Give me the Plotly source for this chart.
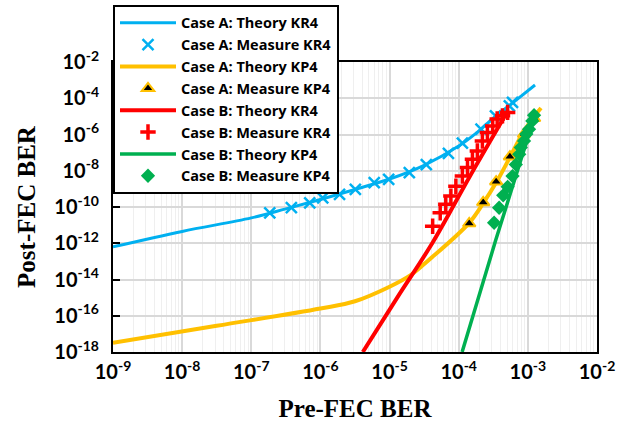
import plotly.graph_objects as go

# ---------------- data ----------------
# Case A KR4 theory
a_kr4_th_x = [1e-9, 1e-8, 1e-7, 3.16e-7, 1e-6, 3.16e-6, 1e-5, 3.16e-5, 1e-4, 1.78e-4, 3.16e-4, 6.3e-4, 1.27e-3]
a_kr4_th_y = [6.3e-13, 4.5e-12, 2.5e-11, 7.9e-11, 2.6e-10, 9.3e-10, 3.5e-9, 2.0e-8, 2.3e-7, 1.17e-6, 7.9e-6, 6.3e-5, 5.4e-4]
# Case A KR4 measured
a_kr4_ms_x = [1.85e-7, 3.8e-7, 7.0e-7, 1.08e-6, 1.89e-6, 3.2e-6, 6.0e-6, 9.7e-6, 1.93e-5, 3.4e-5, 7.1e-5, 1.13e-4, 2.1e-4, 3.4e-4, 5.4e-4, 6.0e-4]
a_kr4_ms_y = [4.8e-11, 9.1e-11, 1.7e-10, 3.2e-10, 4.9e-10, 9.3e-10, 2.2e-9, 3.3e-9, 7.8e-9, 2.2e-8, 9.1e-8, 3.3e-7, 1.95e-6, 1.07e-5, 3.8e-5, 5.9e-5]
# Case A KP4 theory
a_kp4_th_x = [1e-9, 3.16e-8, 1e-6, 3.16e-6, 1e-5, 2.04e-5, 3.7e-5, 1.4e-4, 2.3e-4, 3.5e-4, 5.6e-4, 8.3e-4, 1.15e-3, 1.55e-3]
a_kp4_th_y = [3.2e-18, 2.8e-17, 2.5e-16, 6.3e-16, 4.0e-15, 1.8e-14, 1.2e-13, 1.26e-11, 1.8e-10, 2.3e-9, 6.3e-8, 1.05e-6, 7.1e-6, 2.9e-5]
# Case A KP4 measured
a_kp4_ms_x = [1.42e-4, 2.26e-4, 3.48e-4, 5.5e-4, 8.8e-4, 1.23e-3]
a_kp4_ms_y = [1.23e-11, 1.78e-10, 2.5e-9, 6.0e-8, 1.05e-6, 7.8e-6]
# Case B KR4 theory
b_kr4_th_x = [4.1e-6, 1.29e-5, 4.2e-5, 1.5e-4, 5.2e-4]
b_kr4_th_y = [1e-18, 1e-15, 1.1e-12, 6.3e-9, 2.2e-5]
# Case B KR4 measured
b_kr4_ms_x = [4.2e-5, 5.4e-5, 6.5e-5, 7.7e-5, 9.1e-5, 1.13e-4, 1.34e-4, 1.58e-4, 1.86e-4, 2.2e-4, 2.6e-4, 3.1e-4, 3.6e-4, 4.3e-4, 5.1e-4]
b_kr4_ms_y = [8.7e-12, 4.8e-11, 1.4e-10, 4.0e-10, 1.4e-9, 5.1e-9, 1.5e-8, 4.3e-8, 1.23e-7, 4.4e-7, 1.3e-6, 2.95e-6, 7.1e-6, 1.07e-5, 1.66e-5]
# Case B KP4 theory
b_kp4_th_x = [1.12e-4, 3.45e-4, 1.32e-3]
b_kp4_th_y = [1e-18, 1.6e-12, 2.0e-5]
# Case B KP4 measured
b_kp4_ms_x = [3.25e-4, 3.84e-4, 4.4e-4, 5.1e-4, 6.0e-4, 6.7e-4, 7.5e-4, 7.9e-4, 8.8e-4, 9.5e-4, 1.04e-3, 1.16e-3, 1.23e-3]
b_kp4_ms_y = [1.35e-11, 9.1e-11, 4.4e-10, 1.3e-9, 5.1e-9, 2.2e-8, 8.1e-8, 1.9e-7, 4.4e-7, 1.05e-6, 1.95e-6, 5.6e-6, 1.17e-5]

# axis ticks
x_tickvals = [1e-9, 1e-8, 1e-7, 1e-6, 1e-5, 1e-4, 1e-3, 1e-2]
x_ticktext = ["10<sup>-9</sup>", "10<sup>-8</sup>", "10<sup>-7</sup>", "10<sup>-6</sup>",
              "10<sup>-5</sup>", "10<sup>-4</sup>", "10<sup>-3</sup>", "10<sup>-2</sup>"]
y_tickvals = [1e-18, 1e-16, 1e-14, 1e-12, 1e-10, 1e-8, 1e-6, 1e-4, 1e-2]
y_ticktext = ["10<sup>-18</sup>", "10<sup>-16</sup>", "10<sup>-14</sup>", "10<sup>-12</sup>",
              "10<sup>-10</sup>", "10<sup>-8</sup>", "10<sup>-6</sup>", "10<sup>-4</sup>", "10<sup>-2</sup>"]
x_minor = [m * d for d in [1e-9, 1e-8, 1e-7, 1e-6, 1e-5, 1e-4, 1e-3] for m in range(2, 10)]

BLUE = "#00B0F0"
YELLOW = "#FFC000"
RED = "#FF0000"
GREEN = "#00B050"

fig = go.Figure()
fig.add_trace(go.Scatter(x=a_kr4_th_x, y=a_kr4_th_y, mode="lines", name="Case A: Theory KR4",
                         line=dict(color=BLUE, width=3, shape="spline", smoothing=1.0)))
fig.add_trace(go.Scatter(x=a_kr4_ms_x, y=a_kr4_ms_y, mode="markers", name="Case A: Measure KR4",
                         marker=dict(symbol="x-thin", size=11, line=dict(color=BLUE, width=2.5))))
fig.add_trace(go.Scatter(x=a_kp4_th_x, y=a_kp4_th_y, mode="lines", name="Case A: Theory KP4",
                         line=dict(color=YELLOW, width=4, shape="spline", smoothing=1.0)))
fig.add_trace(go.Scatter(x=a_kp4_ms_x, y=a_kp4_ms_y, mode="markers", name="Case A: Measure KP4",
                         marker=dict(symbol="triangle-up", size=11, color="black",
                                     line=dict(color=YELLOW, width=2))))
fig.add_trace(go.Scatter(x=b_kr4_th_x, y=b_kr4_th_y, mode="lines", name="Case B: Theory KR4",
                         line=dict(color=RED, width=4, shape="spline", smoothing=1.0)))
fig.add_trace(go.Scatter(x=b_kr4_ms_x, y=b_kr4_ms_y, mode="markers", name="Case B: Measure KR4",
                         marker=dict(symbol="cross-thin", size=11, line=dict(color=RED, width=3.5))))
fig.add_trace(go.Scatter(x=b_kp4_th_x, y=b_kp4_th_y, mode="lines", name="Case B: Theory KP4",
                         line=dict(color=GREEN, width=3.5)))
fig.add_trace(go.Scatter(x=b_kp4_ms_x, y=b_kp4_ms_y, mode="markers", name="Case B: Measure KP4",
                         marker=dict(symbol="diamond", size=11, color=GREEN)))

tickfont = dict(family="Lato", size=20, color="black", weight="bold")
fig.update_layout(
    width=620, height=423,
    margin=dict(l=113, r=23, t=62, b=71, autoexpand=False),
    paper_bgcolor="white", plot_bgcolor="white",
    showlegend=True,
    legend=dict(x=0, y=1.197, xanchor="left", yanchor="top",
                bgcolor="white", bordercolor="black", borderwidth=2,
                font=dict(family="Open Sans", size=14.5, color="black", weight="bold"),
                itemwidth=56, tracegroupgap=0),
    xaxis=dict(type="log", range=[-9, -2], tickmode="array", tickvals=x_tickvals, ticktext=x_ticktext,
               tickfont=tickfont, showgrid=True, gridcolor="#d9d9d9", gridwidth=1.5,
               minor=dict(tickmode="array", tickvals=x_minor, showgrid=True, gridcolor="#efefef",
                          gridwidth=1, ticks=""),
               showline=True, linecolor="black", linewidth=2, mirror=True, ticks="",
               ticklabelstandoff=1, zeroline=False,
               title=dict(text="Pre-FEC BER", standoff=17,
                          font=dict(family="Liberation Serif", size=25, color="black", weight="bold"))),
    yaxis=dict(type="log", range=[-18, -2], tickmode="array", tickvals=y_tickvals, ticktext=y_ticktext,
               tickfont=tickfont, showgrid=True, gridcolor="#d9d9d9", gridwidth=1.5,
               showline=True, linecolor="black", linewidth=2, mirror=True,
               ticks="inside", ticklen=7, tickwidth=2, tickcolor="black",
               ticklabelstandoff=8, zeroline=False,
               title=dict(text="Post-FEC BER", standoff=12,
                          font=dict(family="Liberation Serif", size=25, color="black", weight="bold"))),
)

fig.write_html("out.html")
